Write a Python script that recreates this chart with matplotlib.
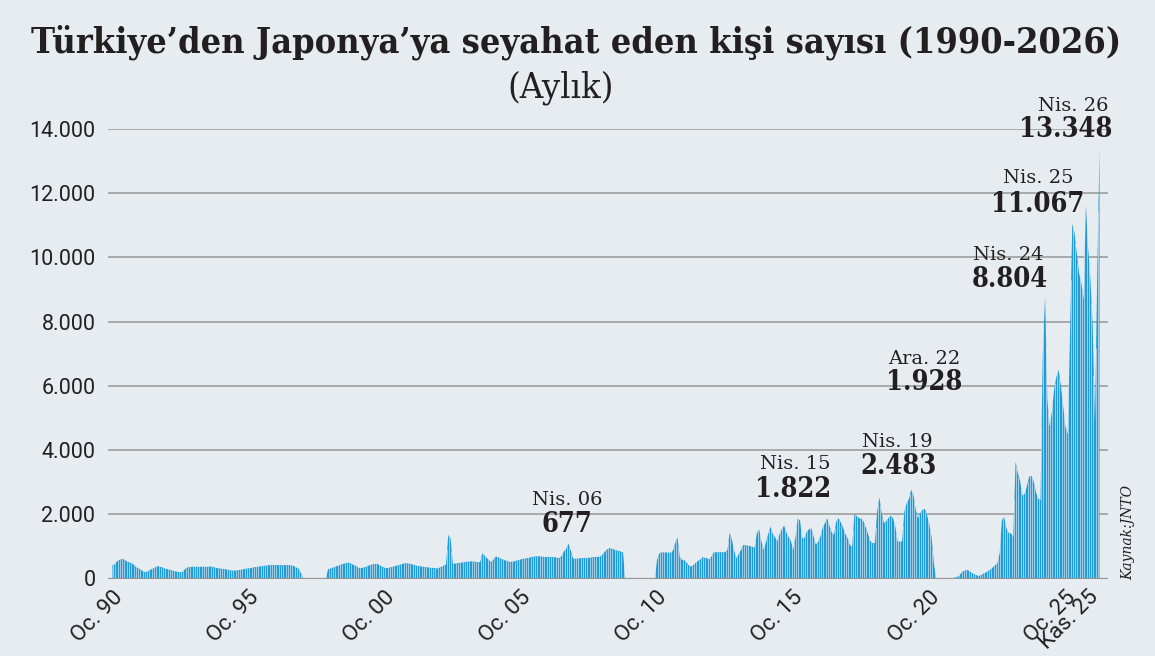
import numpy as np
import matplotlib
matplotlib.use("Agg")
import matplotlib.pyplot as plt

# monthly visitors, Jan 1990 .. Apr 2026
y1990 = [430, 460, 550, 590, 620, 610, 560, 530, 500, 470, 400, 350]
y1991 = [310, 260, 220, 220, 250, 300, 330, 370, 400, 380, 360, 330]
y1992 = [310, 290, 270, 250, 230, 220, 210, 230, 310, 360, 370, 380]
y1993 = [380, 380, 380, 380, 380, 380, 380, 390, 380, 360, 340, 330]
y1994 = [320, 310, 300, 280, 270, 260, 260, 270, 280, 290, 310, 320]
y1995 = [330, 340, 360, 370, 380, 390, 400, 410, 420, 430, 430, 430]
y1996 = [430, 430, 430, 430, 430, 430, 430, 420, 400, 360, 320, 200]
y1997 = [0, 0, 0, 0, 0, 0, 0, 0, 0, 0, 0, 300]
y1998 = [320, 350, 375, 405, 425, 455, 475, 495, 510, 480, 445, 415]
y1999 = [370, 330, 345, 360, 385, 420, 440, 465, 475, 460, 420, 380]
y2000 = [345, 343, 350, 370, 390, 410, 430, 450, 475, 488, 485, 475]
y2001 = [455, 435, 415, 400, 390, 380, 370, 360, 350, 345, 340, 322]
y2002 = [350, 380, 415, 450, 1373, 1270, 470, 480, 490, 500, 510, 520]
y2003 = [535, 540, 550, 545, 535, 525, 520, 800, 730, 650, 580, 530]
y2004 = [620, 700, 680, 640, 610, 580, 560, 530, 540, 545, 570, 590]
y2005 = [610, 625, 640, 655, 665, 690, 700, 705, 705, 700, 690, 685]
y2006 = [690, 685, 680, 677, 665, 650, 720, 860, 950, 1100, 880, 640]
y2007 = [630, 635, 645, 645, 655, 655, 660, 670, 680, 685, 690, 700]
y2008 = [760, 850, 920, 965, 940, 920, 895, 875, 855, 820, 0, 0]
y2009 = [0, 0, 0, 0, 0, 0, 0, 0, 0, 0, 0, 0]
y2010 = [600, 800, 830, 825, 822, 822, 822, 880, 1120, 1300, 680, 600]
y2011 = [590, 510, 420, 385, 437, 500, 560, 600, 676, 660, 645, 613]
y2012 = [700, 830, 832, 832, 832, 832, 832, 900, 1445, 1217, 870, 645]
y2013 = [780, 900, 1061, 1050, 1040, 1020, 1000, 978, 1425, 1539, 1175, 905]
y2014 = [1150, 1400, 1633, 1400, 1300, 1175, 1400, 1550, 1664, 1450, 1300, 1175]
y2015 = [905, 1300, 1880, 1822, 1269, 1290, 1477, 1550, 1580, 1321, 1061, 1150]
y2016 = [1321, 1600, 1737, 1893, 1650, 1450, 1373, 1800, 1893, 1757, 1600, 1400]
y2017 = [1269, 1050, 1009, 2018, 1955, 1893, 1883, 1799, 1600, 1400, 1175, 1113]
y2018 = [1120, 2101, 2548, 2049, 1737, 1800, 1900, 1966, 1893, 1633, 1165, 1165]
y2019 = [1165, 2101, 2361, 2483, 2777, 2621, 2153, 1893, 2049, 2153, 2186, 1978]
y2020 = [1700, 1300, 500, 20, 15, 15, 20, 20, 25, 25, 30, 40]
y2021 = [60, 93, 176, 249, 270, 275, 230, 180, 145, 110, 95, 130]
y2022 = [176, 208, 249, 301, 363, 426, 488, 800, 1838, 1928, 1578, 1422]
y2023 = [1422, 1300, 3650, 3300, 3050, 2600, 2650, 2900, 3190, 3209, 3032, 2700]
y2024 = [2500, 2450, 7000, 8804, 5600, 4745, 5200, 5900, 6300, 6510, 6000, 5368]
y2025 = [4745, 4500, 7549, 11067, 10767, 10144, 9520, 9208, 8688, 11649, 10300, 9312]
y2026 = [7859, 4848, 9520, 13348]

visitors = (y1990 + y1991 + y1992 + y1993 + y1994 + y1995 + y1996 + y1997 + y1998
            + y1999 + y2000 + y2001 + y2002 + y2003 + y2004 + y2005 + y2006 + y2007
            + y2008 + y2009 + y2010 + y2011 + y2012 + y2013 + y2014 + y2015 + y2016
            + y2017 + y2018 + y2019 + y2020 + y2021 + y2022 + y2023 + y2024 + y2025
            + y2026)

tick_months = [0, 60, 120, 180, 240, 300, 360, 420, 430]
tick_labels = ["Oc. 90", "Oc. 95", "Oc. 00", "Oc. 05", "Oc. 10", "Oc. 15",
               "Oc. 20", "Oc. 25", "Kas. 25"]

peak_names = ["Nis. 06", "Nis. 15", "Nis. 19", "Ara. 22", "Nis. 24", "Nis. 25", "Nis. 26"]
peak_values = ["677", "1.822", "2.483", "1.928", "8.804", "11.067", "13.348"]

BG = "#e7ecf0"
BLUE = "#1f9bd7"
DARK = "#231f20"

plt.rcParams['font.family'] = ['Roboto', 'DejaVu Sans']

fig = plt.figure(figsize=(11.55, 6.56), dpi=100)
fig.patch.set_facecolor(BG)
ax = fig.add_axes([108 / 1155, 77.5 / 656, 1000 / 1155, 449.5 / 656])
ax.set_facecolor(BG)

v = np.array(visitors, dtype=float)
x = np.arange(len(v))
ax.fill_between(x, v, color=BLUE, lw=0, zorder=2)
# thin gaps between the monthly columns
ax.vlines(x[:-1] + 0.5, 0, (v[:-1] + v[1:]) / 2, color=BG, lw=0.45, zorder=3)

ax.set_xlim(-1.76, 438.96)
ax.set_ylim(0, 14000)
ax.set_yticks(range(0, 14001, 2000))
ax.set_yticklabels(["0"] + [f"{t // 1000}.000" for t in range(2000, 14001, 2000)],
                   fontsize=15.5, color=DARK)
ax.yaxis.grid(True, color="#a3a3a3", lw=1.3, zorder=0)
ax.set_axisbelow(True)
ax.axhline(0, color="#939393", lw=1.6, zorder=4)
for s in ax.spines.values():
    s.set_visible(False)
ax.tick_params(axis="both", length=0)
ax.tick_params(axis="y", pad=9)

ax.set_xticks(tick_months)
ax.set_xticklabels(tick_labels, rotation=45, ha="right", va="top",
                   rotation_mode="anchor", fontsize=16, color=DARK)
ax.tick_params(axis="x", pad=6)

# label positions (month index, value) for the two text lines
name_pos = [(200.5, 2450), (301, 3580), (346, 4255), (358, 6840), (395, 10080), (408, 12480), (423.5, 14720)]
val_pos = [(200.5, 1680), (300, 2785), (346.5, 3475), (358, 6120), (395.5, 9300), (408, 11650), (420.5, 13970)]
for name, val, npos, vpos in zip(peak_names, peak_values, name_pos, val_pos):
    ax.text(npos[0], npos[1], name, ha="center", va="center", fontsize=14,
            family="DejaVu Serif", color=DARK, clip_on=False)
    ax.text(vpos[0], vpos[1], val, ha="center", va="center", fontsize=19.5,
            family="DejaVu Serif", fontweight="bold", fontstretch="condensed",
            color=DARK, clip_on=False)

fig.text(1128 / 1155, 1 - 533 / 656, "Kaynak:JNTO", rotation=90, ha="center", va="center",
         fontsize=10, style="italic", family="DejaVu Serif", color=DARK)

fig.text(576 / 1155, 1 - 42 / 656, "Türkiye’den Japonya’ya seyahat eden kişi sayısı (1990-2026)",
         ha="center", va="center", fontsize=25.8, fontweight="bold", fontstretch="condensed",
         family="DejaVu Serif", color=DARK)
fig.text(561 / 1155, 1 - 88 / 656, "(Aylık)", ha="center", va="center", fontsize=26,
         fontstretch="condensed", family="DejaVu Serif", color=DARK)

fig.savefig("out.png", dpi=100, facecolor=BG)
